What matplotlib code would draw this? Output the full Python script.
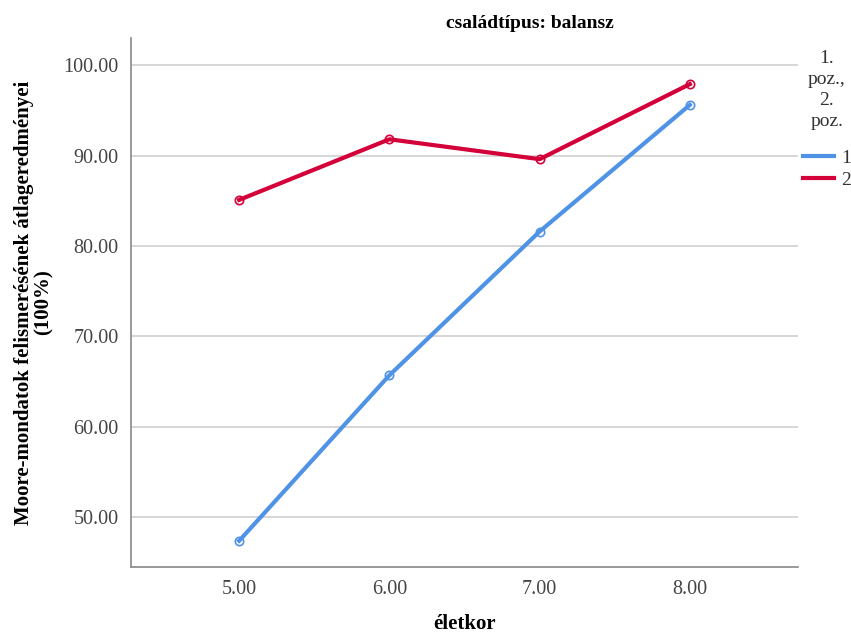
import numpy as np
import matplotlib.pyplot as plt
from matplotlib.lines import Line2D

# data
age = [5.0, 6.0, 7.0, 8.0]
pos1 = [47.4, 65.7, 81.6, 95.6]
pos2 = [85.1, 91.8, 89.6, 97.9]
series_names = ['1', '2']
series_colors = ['#4f93e6', '#d3003a']
y_ticks = [50, 60, 70, 80, 90, 100]
x_ticks = [5, 6, 7, 8]

plt.rcParams['font.family'] = ['Liberation Serif', 'DejaVu Serif']

fig = plt.figure(figsize=(8.51, 6.35), dpi=100)
ax = fig.add_axes([131 / 851, 1 - 567 / 635, (798 - 131) / 851, (567 - 38) / 635])

for vals, name, col in zip([pos1, pos2], series_names, series_colors):
    ax.plot(age, vals, color=col, linewidth=3, marker='o', markersize=6,
            markerfacecolor='none', markeredgecolor=col, markeredgewidth=1.2,
            label=name)

ax.set_xlim(4.28, 8.72)
ax.set_ylim(44.5, 103)
ax.set_xticks(x_ticks)
ax.set_xticklabels([f'{v:.2f}' for v in x_ticks])
ax.set_yticks(y_ticks)
ax.set_yticklabels([f'{v:.2f}' for v in y_ticks])
ax.tick_params(length=0, labelsize=14.5, colors='#444444', pad=9)
ax.yaxis.grid(True, color='#cfcfcf', linewidth=1.2)
ax.set_axisbelow(True)
for s in ['top', 'right']:
    ax.spines[s].set_visible(False)
for s in ['left', 'bottom']:
    ax.spines[s].set_color('#888888')
    ax.spines[s].set_linewidth(1.2)

ax.set_ylabel('Moore-mondatok felismerésének átlageredményei\n(100%)',
              fontsize=15, fontweight='bold', va='center', ha='center',
              multialignment='center', linespacing=1.0)
ax.yaxis.set_label_coords((34 - 131) / 667, 0.5)
ax.set_xlabel('életkor', fontsize=15, fontweight='bold', va='center')
ax.xaxis.set_label_coords(0.5, (567 - 624) / 529)
fig.text(530 / 851, 1 - 24 / 635, 'családtípus: balansz', fontsize=14,
         fontweight='bold', ha='center', va='center')

handles = [Line2D([], [], color=c, linewidth=3) for c in series_colors]
leg = fig.legend(handles, series_names, title='1.\npoz.,\n2.\npoz.',
                 loc='upper left', bbox_to_anchor=(803 / 851, 1 - 50 / 635),
                 frameon=False, fontsize=14, title_fontsize=14,
                 handlelength=1.6, handletextpad=0.35, borderpad=0,
                 borderaxespad=0, labelspacing=0.22)
leg._legend_box.align = 'center'
leg._legend_box.sep = 14
leg.get_title().set_linespacing(1.3)
leg.get_title().set_multialignment('center')
leg.get_title().set_color('#333333')
for t in leg.get_texts():
    t.set_color('#333333')

fig.savefig('out.png', dpi=100)
